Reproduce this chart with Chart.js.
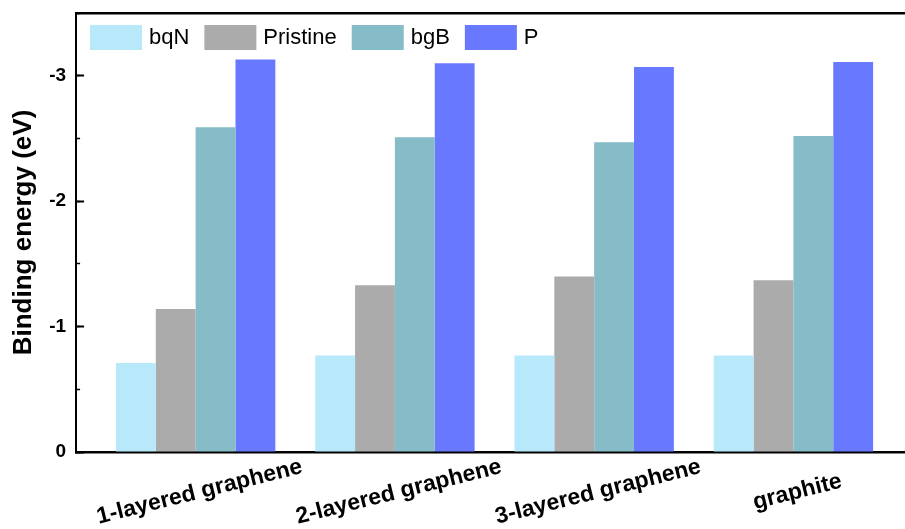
<!DOCTYPE html>
<html>
<head>
<meta charset="utf-8">
<title>Binding energy</title>
<script src="https://cdn.jsdelivr.net/npm/chart.js@4.4.1/dist/chart.umd.min.js"></script>
<style>
    html, body { margin: 0; padding: 0; background: #fff; overflow: hidden; }
    #wrap { width: 905px; height: 529px; position: relative; }
</style>
</head>
<body>
<div id="wrap"><canvas id="energyChart"></canvas></div>
<script>
// Data
const categories = ['1-layered graphene', '2-layered graphene', '3-layered graphene', 'graphite'];
const seriesNames = ['bqN', 'Pristine', 'bgB', 'P'];
const bqNValues = [-0.71, -0.77, -0.77, -0.77];
const pristineValues = [-1.14, -1.33, -1.40, -1.37];
const bgBValues = [-2.59, -2.51, -2.47, -2.52];
const pValues = [-3.13, -3.10, -3.07, -3.11];
const yMajorTicks = [0, -1, -2, -3];
const yMinorTicks = [0, -0.5, -1, -1.5, -2, -2.5, -3, -3.5];
const groupPositions = [1, 2, 3, 4];

const seriesColors = ['#b7e9fb', '#ababab', '#85bcc7', '#6979ff'];
const fontFamily = '"Liberation Sans", Arial, sans-serif';

function toPoints(values) {
    return values.map((v, i) => ({ x: groupPositions[i], y: v }));
}

// legend drawn inside the plot, top-left, like the original figure
const insideLegend = {
    id: 'insideLegend',
    afterDraw(chart) {
        const ctx = chart.ctx;
        let x = 90;
        const y = 25;
        ctx.save();
        ctx.font = '22px ' + fontFamily;
        ctx.textBaseline = 'middle';
        ctx.textAlign = 'left';
        chart.data.datasets.forEach(ds => {
            ctx.fillStyle = ds.backgroundColor;
            ctx.fillRect(x, y, 52, 25);
            ctx.fillStyle = '#000';
            ctx.fillText(ds.label, x + 59, y + 13);
            x += 59 + ctx.measureText(ds.label).width + 15;
        });
        ctx.restore();
    }
};

// slanted category labels centred under each group
const slantedLabels = {
    id: 'slantedLabels',
    afterDraw(chart) {
        const ctx = chart.ctx;
        const xScale = chart.scales.x;
        ctx.save();
        ctx.font = 'bold 23px ' + fontFamily;
        ctx.fillStyle = '#000';
        ctx.textAlign = 'center';
        ctx.textBaseline = 'middle';
        categories.forEach((label, i) => {
            const px = xScale.getPixelForValue(groupPositions[i]);
            ctx.save();
            ctx.translate(px + 4, 492);
            ctx.rotate(-14 * Math.PI / 180);
            ctx.fillText(label, 0, 0);
            ctx.restore();
        });
        ctx.restore();
    }
};

const valueLists = [bqNValues, pristineValues, bgBValues, pValues];

// zero-width helper axes that only carry the inward tick marks
function tickOnlyAxis(weight, stepTicks, len, width) {
    return {
        type: 'linear',
        position: 'left',
        weight: weight,
        reverse: true,
        min: -3.5,
        max: 0,
        afterBuildTicks(scale) {
            scale.ticks = stepTicks.map(v => ({ value: v }));
        },
        ticks: { display: false },
        grid: {
            drawOnChartArea: false,
            tickLength: -len,
            tickWidth: width,
            tickColor: '#000'
        },
        border: { display: false },
        title: {
            display: true,
            text: '',
            font: { size: len, lineHeight: 1 },
            padding: 0
        }
    };
}

const yMajor = tickOnlyAxis(1, yMajorTicks, 8, 2);
yMajor.border = { display: true, color: '#000', width: 2 };
const yMinor = tickOnlyAxis(0, yMinorTicks, 4, 1.5);

new Chart(document.getElementById('energyChart'), {
    type: 'bar',
    data: {
        datasets: seriesNames.map((name, i) => ({
            label: name,
            data: toPoints(valueLists[i]),
            backgroundColor: seriesColors[i],
            borderWidth: 0,
            barPercentage: 1,
            categoryPercentage: 0.8,
            yAxisID: 'y'
        }))
    },
    options: {
        responsive: true,
        maintainAspectRatio: false,
        animation: false,
        layout: {
            padding: { top: 13, right: 0, bottom: 77, left: 0 }
        },
        plugins: {
            legend: { display: false },
            tooltip: { enabled: false }
        },
        scales: {
            x: {
                type: 'linear',
                position: 'bottom',
                min: 0.4,
                max: 4.56,
                offset: false,
                afterBuildTicks(scale) {
                    scale.ticks = groupPositions.map(v => ({ value: v }));
                },
                grid: { display: false, drawTicks: false },
                border: { display: true, color: '#000', width: 2.5 },
                ticks: { display: false }
            },
            xTop: {
                type: 'linear',
                position: 'top',
                min: 0.4,
                max: 4.56,
                grid: { display: false, drawTicks: false },
                border: { display: true, color: '#000', width: 2.5 },
                ticks: { display: false }
            },
            yLabels: {
                type: 'linear',
                position: 'left',
                weight: 2,
                reverse: true,
                min: -3.5,
                max: 0,
                afterBuildTicks(scale) {
                    scale.ticks = yMajorTicks.map(v => ({ value: v }));
                },
                ticks: {
                    padding: 0,
                    color: '#000',
                    font: { family: fontFamily, size: 19, weight: 'bold' },
                    callback: v => String(v)
                },
                grid: {
                    drawOnChartArea: false,
                    tickLength: 10,
                    tickColor: 'rgba(0,0,0,0)'
                },
                border: { display: false },
                title: {
                    display: true,
                    text: 'Binding energy (eV)',
                    color: '#000',
                    font: { family: fontFamily, size: 26, weight: 'bold', lineHeight: 1.2 },
                    padding: { top: 8, bottom: 10 }
                }
            },
            y: yMajor,
            yMinor: yMinor
        }
    },
    plugins: [insideLegend, slantedLabels]
});
</script>
</body>
</html>
